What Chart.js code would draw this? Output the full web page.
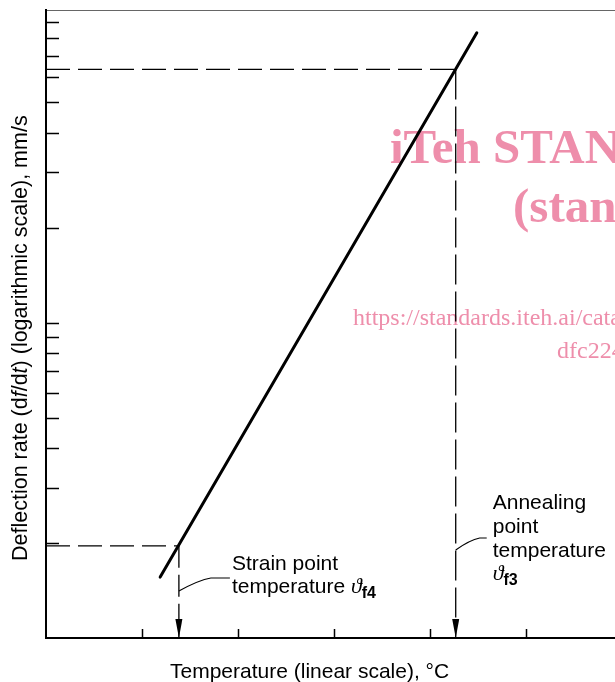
<!DOCTYPE html>
<html>
<head>
<meta charset="utf-8">
<script src="https://cdn.jsdelivr.net/npm/chart.js@4.4.1/dist/chart.umd.min.js"></script>
<style>
  body { margin: 0; background: #fff; }
  #wrap { width: 615px; height: 682px; }
</style>
</head>
<body>
<div id="wrap"><canvas id="chart" width="615" height="682"></canvas></div>
<script>
// deflection rate line (temperature in tick units, rate in mm/s)
const lineTemp = [1.19, 4.49];
const lineRate = [1.56, 83];

// reference points
const strainTemp = 1.385, strainRate = 1.96;
const annealTemp = 4.27, annealRate = 63.5;

// tick marks
const xTicks = [1, 2, 3, 4, 5];
const yTicks = [2, 3, 4, 5, 6, 7, 8, 9, 10, 20, 30, 40, 50, 60, 70, 80, 90];

const xMin = 0, xMax = 5.93;
const yMin = 1, yMax = 98;

const FONT = '"Liberation Sans", Arial, sans-serif';
const SERIF = '"Liberation Serif", "Times New Roman", serif';
const PINK = '#ee8eab';

function pts(xs, ys) {
  return xs.map((x, i) => ({ x: x, y: ys[i] }));
}

// draws a run of text pieces [text, font, dy]
function drawRun(ctx, x, y, parts) {
  parts.forEach(p => {
    ctx.font = p[1];
    ctx.fillText(p[0], x, y + (p[2] || 0));
    x += ctx.measureText(p[0]).width;
  });
}

const extras = {
  id: 'extras',
  beforeDatasetsDraw(chart) {
    const ctx = chart.ctx;
    ctx.save();
    ctx.fillStyle = PINK;
    ctx.textBaseline = 'alphabetic';
    ctx.font = 'bold 49px ' + SERIF;
    ctx.fillText('iTeh STANDARD PREVIEW', 390, 163);
    ctx.fillText('(standards.iteh.ai)', 513, 222);
    ctx.font = '24px ' + SERIF;
    ctx.fillText('https://standards.iteh.ai/catalog/standards/sist/', 353, 325);
    ctx.fillText('dfc224', 557, 358);
    ctx.restore();
  },
  afterDatasetsDraw(chart) {
    const ctx = chart.ctx;
    const xs = chart.scales.x, ys = chart.scales.y;
    const area = chart.chartArea;
    ctx.save();
    ctx.strokeStyle = '#000';
    ctx.fillStyle = '#000';

    // ticks pointing into the plot
    ctx.lineWidth = 1.5;
    ctx.beginPath();
    yTicks.forEach(v => {
      const py = Math.round(ys.getPixelForValue(v)) + 0.5;
      ctx.moveTo(area.left, py);
      ctx.lineTo(area.left + 13, py);
    });
    xTicks.forEach(v => {
      const px = Math.round(xs.getPixelForValue(v)) + 0.5;
      ctx.moveTo(px, area.bottom);
      ctx.lineTo(px, area.bottom - 9);
    });
    ctx.stroke();

    // arrow heads
    [strainTemp, annealTemp].forEach(v => {
      const px = xs.getPixelForValue(v);
      ctx.beginPath();
      ctx.moveTo(px, area.bottom);
      ctx.lineTo(px - 3.5, area.bottom - 19);
      ctx.lineTo(px + 3.5, area.bottom - 19);
      ctx.closePath();
      ctx.fill();
    });

    // leaders
    const sx = xs.getPixelForValue(strainTemp);
    const ax = xs.getPixelForValue(annealTemp);
    ctx.lineWidth = 1.2;
    ctx.beginPath();
    ctx.moveTo(sx, 591);
    ctx.quadraticCurveTo(sx + 20, 580, sx + 32, 578);
    ctx.lineTo(sx + 51, 578);
    ctx.moveTo(ax, 550);
    ctx.quadraticCurveTo(ax + 14, 540, ax + 24, 538);
    ctx.lineTo(ax + 31, 538);
    ctx.stroke();

    // labels
    const f21 = '21px ' + FONT;
    const theta = 'italic 22px ' + SERIF;
    const sub = 'bold 16px ' + FONT;
    ctx.font = f21;
    ctx.fillText('Strain point', sx + 53, 570);
    drawRun(ctx, sx + 53, 593, [['temperature ', f21], ['\u03D1', theta], ['f4', sub, 5]]);
    const lx = ax + 37;
    ctx.font = f21;
    ctx.fillText('Annealing', lx, 509);
    ctx.fillText('point', lx, 533);
    ctx.fillText('temperature', lx, 557);
    drawRun(ctx, lx, 580, [['\u03D1', theta], ['f3', sub, 5]]);

    // axis titles
    ctx.font = f21;
    ctx.fillText('Temperature (linear scale), \u00B0C', 170, 678);
    ctx.translate(27, 561);
    ctx.rotate(-Math.PI / 2);
    const fy = '21.5px ' + FONT;
    const it = 'italic 21.5px ' + FONT;
    drawRun(ctx, 0, 0, [
      ['Deflection rate (d', fy], ['f', it], ['/d', fy], ['t', it],
      [') (logarithmic scale), mm/s', fy]
    ]);
    ctx.restore();
  }
};

new Chart(document.getElementById('chart'), {
  type: 'scatter',
  data: {
    datasets: [
      {
        data: pts(lineTemp, lineRate),
        showLine: true, borderColor: '#000', borderWidth: 3,
        pointRadius: 0, borderCapStyle: 'round'
      },
      {
        data: pts([xMin, strainTemp], [strainRate, strainRate]),
        showLine: true, borderColor: '#000', borderWidth: 1.3,
        borderDash: [24, 8], pointRadius: 0
      },
      {
        data: pts([strainTemp, strainTemp], [strainRate, yMin]),
        showLine: true, borderColor: '#000', borderWidth: 1.3,
        borderDash: [22, 7], pointRadius: 0
      },
      {
        data: pts([xMin, annealTemp], [annealRate, annealRate]),
        showLine: true, borderColor: '#000', borderWidth: 1.3,
        borderDash: [24, 8], pointRadius: 0
      },
      {
        data: pts([annealTemp, annealTemp], [annealRate, yMin]),
        showLine: true, borderColor: '#000', borderWidth: 1.3,
        borderDash: [30, 7], pointRadius: 0
      }
    ]
  },
  options: {
    responsive: false,
    animation: false,
    layout: { padding: { left: 38, top: 2, right: 0, bottom: 36 } },
    plugins: { legend: { display: false }, tooltip: { enabled: false } },
    scales: {
      x: {
        type: 'linear', min: xMin, max: xMax,
        ticks: { display: false }, grid: { display: false },
        border: { color: '#000', width: 2 }
      },
      xTop: {
        type: 'linear', position: 'top', min: xMin, max: xMax,
        ticks: { display: false }, grid: { display: false },
        border: { color: '#666', width: 1 }
      },
      y: {
        type: 'logarithmic', min: yMin, max: yMax,
        ticks: { display: false }, grid: { display: false },
        border: { color: '#000', width: 2 }
      }
    }
  },
  plugins: [extras]
});
</script>
</body>
</html>
